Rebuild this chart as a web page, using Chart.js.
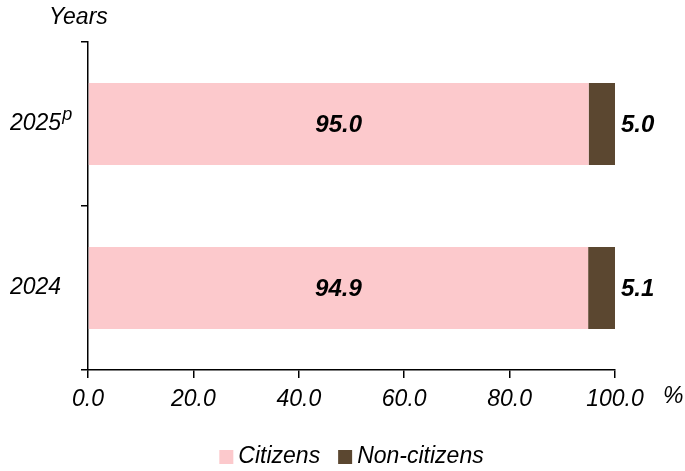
<!DOCTYPE html>
<html>
<head>
<meta charset="utf-8">
<script src="https://cdn.jsdelivr.net/npm/chart.js@4"></script>
<style>
  html, body { margin: 0; padding: 0; background: #fff; }
  #wrap { width: 685px; height: 471px; }
</style>
</head>
<body>
<div id="wrap"><canvas id="chart"></canvas></div>
<script>
// data
var years = ["2025", "2024"];
var yearNotes = ["p", ""];
var citizens = [95.0, 94.9];
var nonCitizens = [5.0, 5.1];
var xTicks = [0, 20, 40, 60, 80, 100];

var FONT = "'Liberation Sans', Arial, sans-serif";

// value labels, axis titles and legend
var extras = {
  id: "extras",
  afterDatasetsDraw: function (chart) {
    var ctx = chart.ctx;
    var area = chart.chartArea;
    ctx.save();
    ctx.fillStyle = "#000";
    ctx.textBaseline = "middle";

    // values on bars
    ctx.font = "italic bold 24px " + FONT;
    chart.getDatasetMeta(0).data.forEach(function (el, i) {
      ctx.textAlign = "center";
      ctx.fillText(citizens[i].toFixed(1), (el.x + el.base) / 2, el.y + 1);
    });
    chart.getDatasetMeta(1).data.forEach(function (el, i) {
      ctx.textAlign = "left";
      ctx.fillText(nonCitizens[i].toFixed(1), el.x + 6, el.y + 1);
    });

    // superscript notes on year labels
    var yScale = chart.scales.y;
    ctx.font = "italic 23px " + FONT;
    years.forEach(function (y, i) {
      if (!yearNotes[i]) return;
      var w = ctx.measureText(y).width;
      var py = yScale.getPixelForValue(i);
      ctx.font = "italic 18px " + FONT;
      ctx.textAlign = "left";
      ctx.fillText(yearNotes[i], 10 + w + 1, py - 9);
      ctx.font = "italic 23px " + FONT;
    });

    // axis titles
    ctx.font = "italic 23px " + FONT;
    ctx.textAlign = "left";
    ctx.fillText("Years", 49, 18);
    ctx.fillText("%", 663, 397);

    // legend
    var ly = 457;
    var box = 14;
    var items = chart.data.datasets.map(function (d) {
      return { text: d.label, color: d.backgroundColor };
    });
    var widths = items.map(function (it) { return box + 5 + ctx.measureText(it.text).width; });
    var gap = 18;
    var total = widths.reduce(function (a, b) { return a + b; }, 0) + gap * (items.length - 1);
    var lx = (area.left + area.right) / 2 - total / 2;
    items.forEach(function (it, i) {
      ctx.fillStyle = it.color;
      ctx.fillRect(lx, ly - box / 2, box, box);
      ctx.fillStyle = "#000";
      ctx.fillText(it.text, lx + box + 5, ly);
      lx += widths[i] + gap;
    });
    ctx.restore();
  }
};

new Chart(document.getElementById("chart"), {
  type: "bar",
  data: {
    labels: years,
    datasets: [
      { label: "Citizens", data: citizens, backgroundColor: "#FCC9CC" },
      { label: "Non-citizens", data: nonCitizens, backgroundColor: "#5B4730" }
    ]
  },
  options: {
    indexAxis: "y",
    responsive: true,
    maintainAspectRatio: false,
    animation: false,
    events: [],
    layout: { padding: { left: 10, top: 42, right: 70, bottom: 0 } },
    datasets: { bar: { categoryPercentage: 1.0, barPercentage: 0.5 } },
    plugins: { legend: { display: false }, tooltip: { enabled: false } },
    scales: {
      x: {
        stacked: true,
        min: 0,
        max: 100,
        afterBuildTicks: function (scale) {
          scale.ticks = xTicks.map(function (v) { return { value: v }; });
        },
        afterFit: function (scale) { scale.height = 101; },
        border: { display: true, color: "#000", width: 1.5 },
        grid: { display: true, drawOnChartArea: false, drawTicks: true, tickLength: 8, color: "#000", lineWidth: 1.5 },
        ticks: {
          color: "#000",
          padding: 8,
          maxRotation: 0,
          font: { family: FONT, size: 23, style: "italic" },
          callback: function (v) { return Number(v).toFixed(1); }
        }
      },
      y: {
        stacked: true,
        afterFit: function (scale) { scale.width = 78; },
        border: { display: true, color: "#000", width: 1.5 },
        grid: { display: true, offset: true, drawOnChartArea: false, drawTicks: true, tickLength: 7, color: "#000", lineWidth: 1.5 },
        ticks: {
          color: "#000",
          crossAlign: "far",
          font: { family: FONT, size: 23, style: "italic" }
        }
      }
    }
  },
  plugins: [extras]
});
</script>
</body>
</html>
